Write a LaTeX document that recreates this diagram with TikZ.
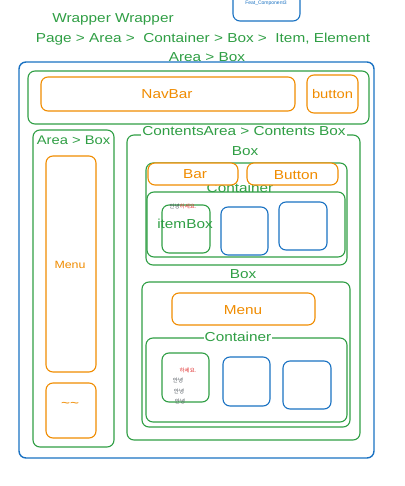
\documentclass[tikz,border=0pt]{standalone}
\usepackage{fontspec}
\setmainfont[FakeStretch=1.18]{Liberation Sans}
\newfontfamily\kr{Noto Sans CJK KR}
\newfontfamily\plain{Liberation Sans}
\definecolor{xgreen}{HTML}{2F9E44}
\definecolor{xorange}{HTML}{F08C00}
\definecolor{xblue}{HTML}{1971C2}
\definecolor{xred}{HTML}{E03131}
\definecolor{xgray}{HTML}{495057}
\tikzset{
  bx/.style={draw, inner sep=0pt, outer sep=0pt, rounded corners=7pt, line width=1.1pt, fill=none},
  gbox/.style={bx, xgreen},
  obox/.style={bx, xorange, fill=white},
  bbox/.style={bx, xblue},
  gtxt/.style={text=xgreen, inner sep=0pt, font=\fontsize{13}{15}\selectfont},
  otxt/.style={text=xorange, inner sep=0pt, font=\fontsize{13}{15}\selectfont},
  krtxt/.style={inner sep=0pt, font=\kr\fontsize{5.5}{6}\selectfont},
}
\begin{document}
\begin{tikzpicture}[x=1pt,y=-1pt]
\useasboundingbox (0,0) rectangle (404,486);
% top component
\node[bbox, minimum width=67pt, minimum height=31pt] (feat) at (266.5,5.5) {};
\node[inner sep=0pt, text=xblue, font=\plain\fontsize{5}{6}\selectfont] (featlbl) at (266,3) {Feat\_Component3};
% headers
\node[gtxt] (h1) at (113,19) {Wrapper Wrapper};
\node[gtxt] (h2) at (203,39) {Page > Area >\ \ Container > Box >\ \ Item, Element};
\node[gtxt] (h3) at (207,57) {Area > Box};
% outer
\node[bbox, line width=1.4pt, minimum width=355pt, minimum height=396pt] (outer) at (196.5,260) {};
% nav area
\node[gbox, minimum width=341pt, minimum height=53pt] (navarea) at (198.5,97.5) {};
\node[obox, minimum width=254pt, minimum height=34pt] (navbar) at (168,94) {};
\node[otxt] (navlbl) at (167,94) {NavBar};
\node[obox, minimum width=51pt, minimum height=38pt] (button) at (332.5,94) {};
\node[otxt, font=\fontsize{12.5}{14}\selectfont] (btnlbl) at (332.5,94) {button};
% left area
\node[gbox, minimum width=81pt, minimum height=317pt] (leftarea) at (73.5,288.5) {};
\node[gtxt, font=\fontsize{12.5}{14}\selectfont] (leftlbl) at (73.5,140) {Area > Box};
\node[obox, minimum width=50pt, minimum height=216pt] (menuL) at (71,264) {};
\node[otxt, font=\fontsize{10.5}{13}\selectfont] (menuLlbl) at (70,265) {Menu};
\node[obox, minimum width=50pt, minimum height=55pt] (tilde) at (71,410.5) {};
\node[otxt] (tildelbl) at (70,405) {\textasciitilde\textasciitilde};
% contents area
\node[gbox, minimum width=233pt, minimum height=305pt] (contents) at (243.5,287.5) {};
\node[gtxt, fill=white, inner sep=1pt] (contentslbl) at (244,131) {ContentsArea > Contents Box};
% box 1
\node[gtxt] (box1lbl) at (245,151) {Box};
\node[gbox, minimum width=201pt, minimum height=102pt] (box1) at (246.5,214) {};
\node[gbox, minimum width=198pt, minimum height=65pt] (cont1) at (246,224.5) {};
\node[gtxt] (cont1lbl) at (240,188) {Container};
\node[obox, minimum width=90pt, minimum height=22pt] (bar) at (193,174) {};
\node[otxt] (barlbl) at (195,174) {Bar};
\node[obox, minimum width=91pt, minimum height=22pt] (btn) at (292.5,174) {};
\node[otxt] (btnlbl2) at (296,175) {Button};
\node[gbox, minimum width=48pt, minimum height=48pt] (item1) at (186,229) {};
\node[krtxt] (kr1) at (183,206) {\textcolor{xgray}{안녕}\textcolor{xred}{하세요.}};
\node[gtxt] (itemlbl) at (185,224) {itemBox};
\node[bbox, minimum width=47pt, minimum height=48pt] (b1) at (244.5,231) {};
\node[bbox, minimum width=48pt, minimum height=48pt] (b2) at (303,226) {};
% box 2
\node[gtxt] (box2lbl) at (243,274) {Box};
\node[gbox, minimum width=208pt, minimum height=145pt] (box2) at (246,354.5) {};
\node[obox, minimum width=143pt, minimum height=32pt] (menu2) at (243.5,309) {};
\node[otxt] (menu2lbl) at (243,310) {Menu};
\node[gbox, minimum width=201pt, minimum height=84pt] (cont2) at (246.5,380) {};
\node[gtxt, fill=white, inner sep=1pt] (cont2lbl) at (238,337) {Container};
\node[gbox, minimum width=47pt, minimum height=49pt] (item2) at (185.5,377.5) {};
\node[krtxt, text=xred] (kr2) at (188,370) {하세요.};
\node[krtxt, text=xgray] (kr3) at (178,380) {안녕};
\node[krtxt, text=xgray] (kr4) at (179,391) {안녕};
\node[krtxt, text=xgray] (kr5) at (180,401) {안녕};
\node[bbox, minimum width=47pt, minimum height=49pt] (b3) at (246.5,381.5) {};
\node[bbox, minimum width=48pt, minimum height=48pt] (b4) at (307,385) {};
\end{tikzpicture}
\end{document}
